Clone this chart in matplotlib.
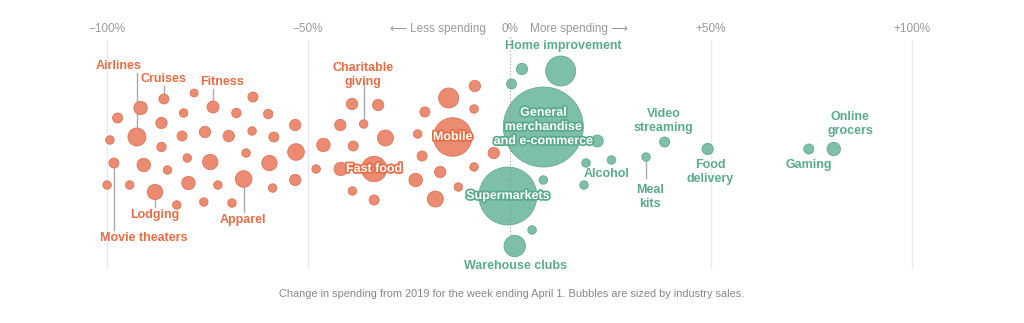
import matplotlib
matplotlib.use("Agg")
import matplotlib.pyplot as plt
import matplotlib.patheffects as pe
import numpy as np

# change in spending vs 2019 (%), swarm lane (offset from middle row), relative industry sales
down_change = [-85.8, -78.3, -73.6, -63.7, -91.6, -97.3, -80.9, -86.4, -67.8, -59.9,
               -92.5, -99.2, -81.3, -75.6, -69.7, -63.9, -58.5, -86.4, -65.4, -98.2,
               -90.8, -80.0, -74.3, -59.6, -84.9, -99.9, -94.3, -88.0, -79.7, -72.4,
               -66.0, -58.8, -82.6, -75.9, -68.9, -53.2, -53.0, -53.2, -46.2, -48.0,
               -41.9, -39.1, -32.6, -42.0, -36.2, -30.8, -38.8, -33.6, -39.0, -33.6,
               -8.6, -15.1, -21.0, -8.8, -22.8, -14.1, -21.7, -3.9, -8.8, -17.2,
               -23.3, -12.7, -18.4]
down_lane = [-51, -57, -43, -53, -42, -32, -37, -27, -37, -36,
             -13, -10, -14, -18, -14, -19, -13, -3, 3, 13,
             15, 8, 12, 13, 20, 35, 35, 42, 33, 35,
             29, 38, 55, 52, 53, -25, 2, 30, -5, 19,
             19, -46, -45, -25, -26, -12, -4, 19, 41, 50,
             -64, -52, -38, -41, -16, -13, 6, 3, 17, 22,
             30, 37, 49]
down_sales = [25, 16, 36, 25, 45, 25, 18, 32, 22, 22,
              81, 18, 25, 32, 32, 18, 25, 22, 18, 25,
              45, 18, 59, 59, 18, 18, 18, 59, 45, 18,
              69, 18, 18, 18, 18, 32, 69, 32, 45, 18,
              45, 32, 32, 32, 18, 64, 25, 161, 18, 25,
              32, 100, 25, 18, 18, 372, 25, 32, 18, 32,
              45, 18, 64]

up_change = [3.1, 12.7, 0.5, 8.4, 21.8, 19.0, 25.3, 33.9, 38.5, 8.4,
             18.5, -0.4, 5.6, 1.3, 49.2, 74.3, 80.5]
up_lane = [-81, -79, -66, -23, -9, 13, 10, 7, -8, 30,
           35, 46, 80, 96, -1, -1, -1]
up_sales = [32, 225, 25, 1600, 36, 18, 18, 18, 25, 18,
            18, 841, 18, 114, 32, 25, 45]

# labels: (text, x, lane, bubble index or None)
down_labels = [("Airlines", -97.1, -84, 10), ("Cruises", -85.8, -71, 0),
               ("Fitness", -71.4, -68, 2), ("Charitable\ngiving", -36.3, -75, 44),
               ("Lodging", -88.1, 65, 27), ("Apparel", -66.1, 70, 30)]
up_labels = [("Home improvement", 13.4, -104, None), ("Alcohol", 24.0, 24, None),
             ("Video\nstreaming", 38.3, -29, None), ("Meal\nkits", 34.9, 47, 7),
             ("Food\ndelivery", 49.8, 22, None), ("Gaming", 74.4, 15, None),
             ("Online\ngrocers", 84.6, -26, None), ("Warehouse clubs", 1.4, 116, None)]

ticks = [-100, -50, 0, 50, 100]
tick_labels = ["\u2212100%", "\u221250%", "0%", "+50%", "+100%"]

orange, orange_edge, orange_text = "#ea8b72", "#dc7659", "#e66d45"
green, green_edge, green_text = "#7dbfa7", "#62ab8f", "#5aab8b"
px = 4.028  # pixels per percent

fig = plt.figure(figsize=(10.24, 3.23), dpi=100)
ax = fig.add_axes([0, 0, 1, 1])
ax.set_xlim(-509.5 / px, (1024 - 509.5) / px)
ax.set_ylim(173, -150)
ax.axis("off")

font = ["Liberation Sans", "DejaVu Sans"]

for t, lab in zip(ticks, tick_labels):
    if t != 0:
        ax.plot([t, t], [-110, 118], color="#e9e9e9", lw=1, zorder=0)
    ax.text(t, -121, lab, ha="center", va="center", fontsize=8.5, color="#999999", family=font)
ax.plot([0, 0], [-113, 86], color="#888888", lw=0.8, ls=(0, (1, 2)), zorder=4, alpha=0.8)
ax.text(-5.8, -121, "\u27f5 Less spending", ha="right", va="center", fontsize=8.5,
        color="#999999", family=font)
ax.text(5.0, -121, "More spending \u27f6", ha="left", va="center", fontsize=8.5,
        color="#999999", family=font)

ax.scatter(down_change, down_lane, s=np.array(down_sales) * 2.07, color=orange,
           edgecolor=orange_edge, lw=0.6, zorder=2)
ax.scatter(up_change, up_lane, s=np.array(up_sales) * 2.07, color=green,
           edgecolor=green_edge, lw=0.6, zorder=2)

lab_kw = dict(fontsize=9, fontweight="bold", family=font, linespacing=1.25)
for text, x, y, i in down_labels:
    ax.text(x, y, text, ha="center", va="center", color=orange_text, **lab_kw)
    if i is not None:
        ax.plot([down_change[i], down_change[i]], [down_lane[i], y + 7 if y < 0 else y - 8],
                color="#aaaaaa", lw=1, zorder=1)
# movie theaters hangs below-left
ax.text(-101.6, 88, "Movie theaters", ha="left", va="center", color=orange_text, **lab_kw)
ax.plot([down_change[19]] * 2, [down_lane[19], 80], color="#aaaaaa", lw=1, zorder=1)
for text, x, y, i in up_labels:
    ax.text(x, y, text, ha="center", va="center", color=green_text, **lab_kw)
    if i is not None:
        ax.plot([up_change[i]] * 2, [up_lane[i], y - 19], color="#aaaaaa", lw=1, zorder=1)

# labels sitting on the bubbles
for text, i, col, grp in [("Fast food", 47, orange_text, "d"), ("Mobile", 55, orange_text, "d"),
                          ("General\nmerchandise\nand e-commerce", 3, green_text, "u"),
                          ("Supermarkets", 11, green_text, "u")]:
    x = down_change[i] if grp == "d" else up_change[i]
    y = down_lane[i] if grp == "d" else up_lane[i]
    ax.text(x, y, text, ha="center", va="center", color="white", zorder=5,
            path_effects=[pe.withStroke(linewidth=2.5, foreground=col)], **lab_kw)

fig.text(0.5, 1 - 294 / 323, "Change in spending from 2019 for the week ending April 1. "
         "Bubbles are sized by industry sales.", ha="center", va="center",
         fontsize=7.9, color="#888888", family=font)

fig.savefig("out.png", dpi=100)
